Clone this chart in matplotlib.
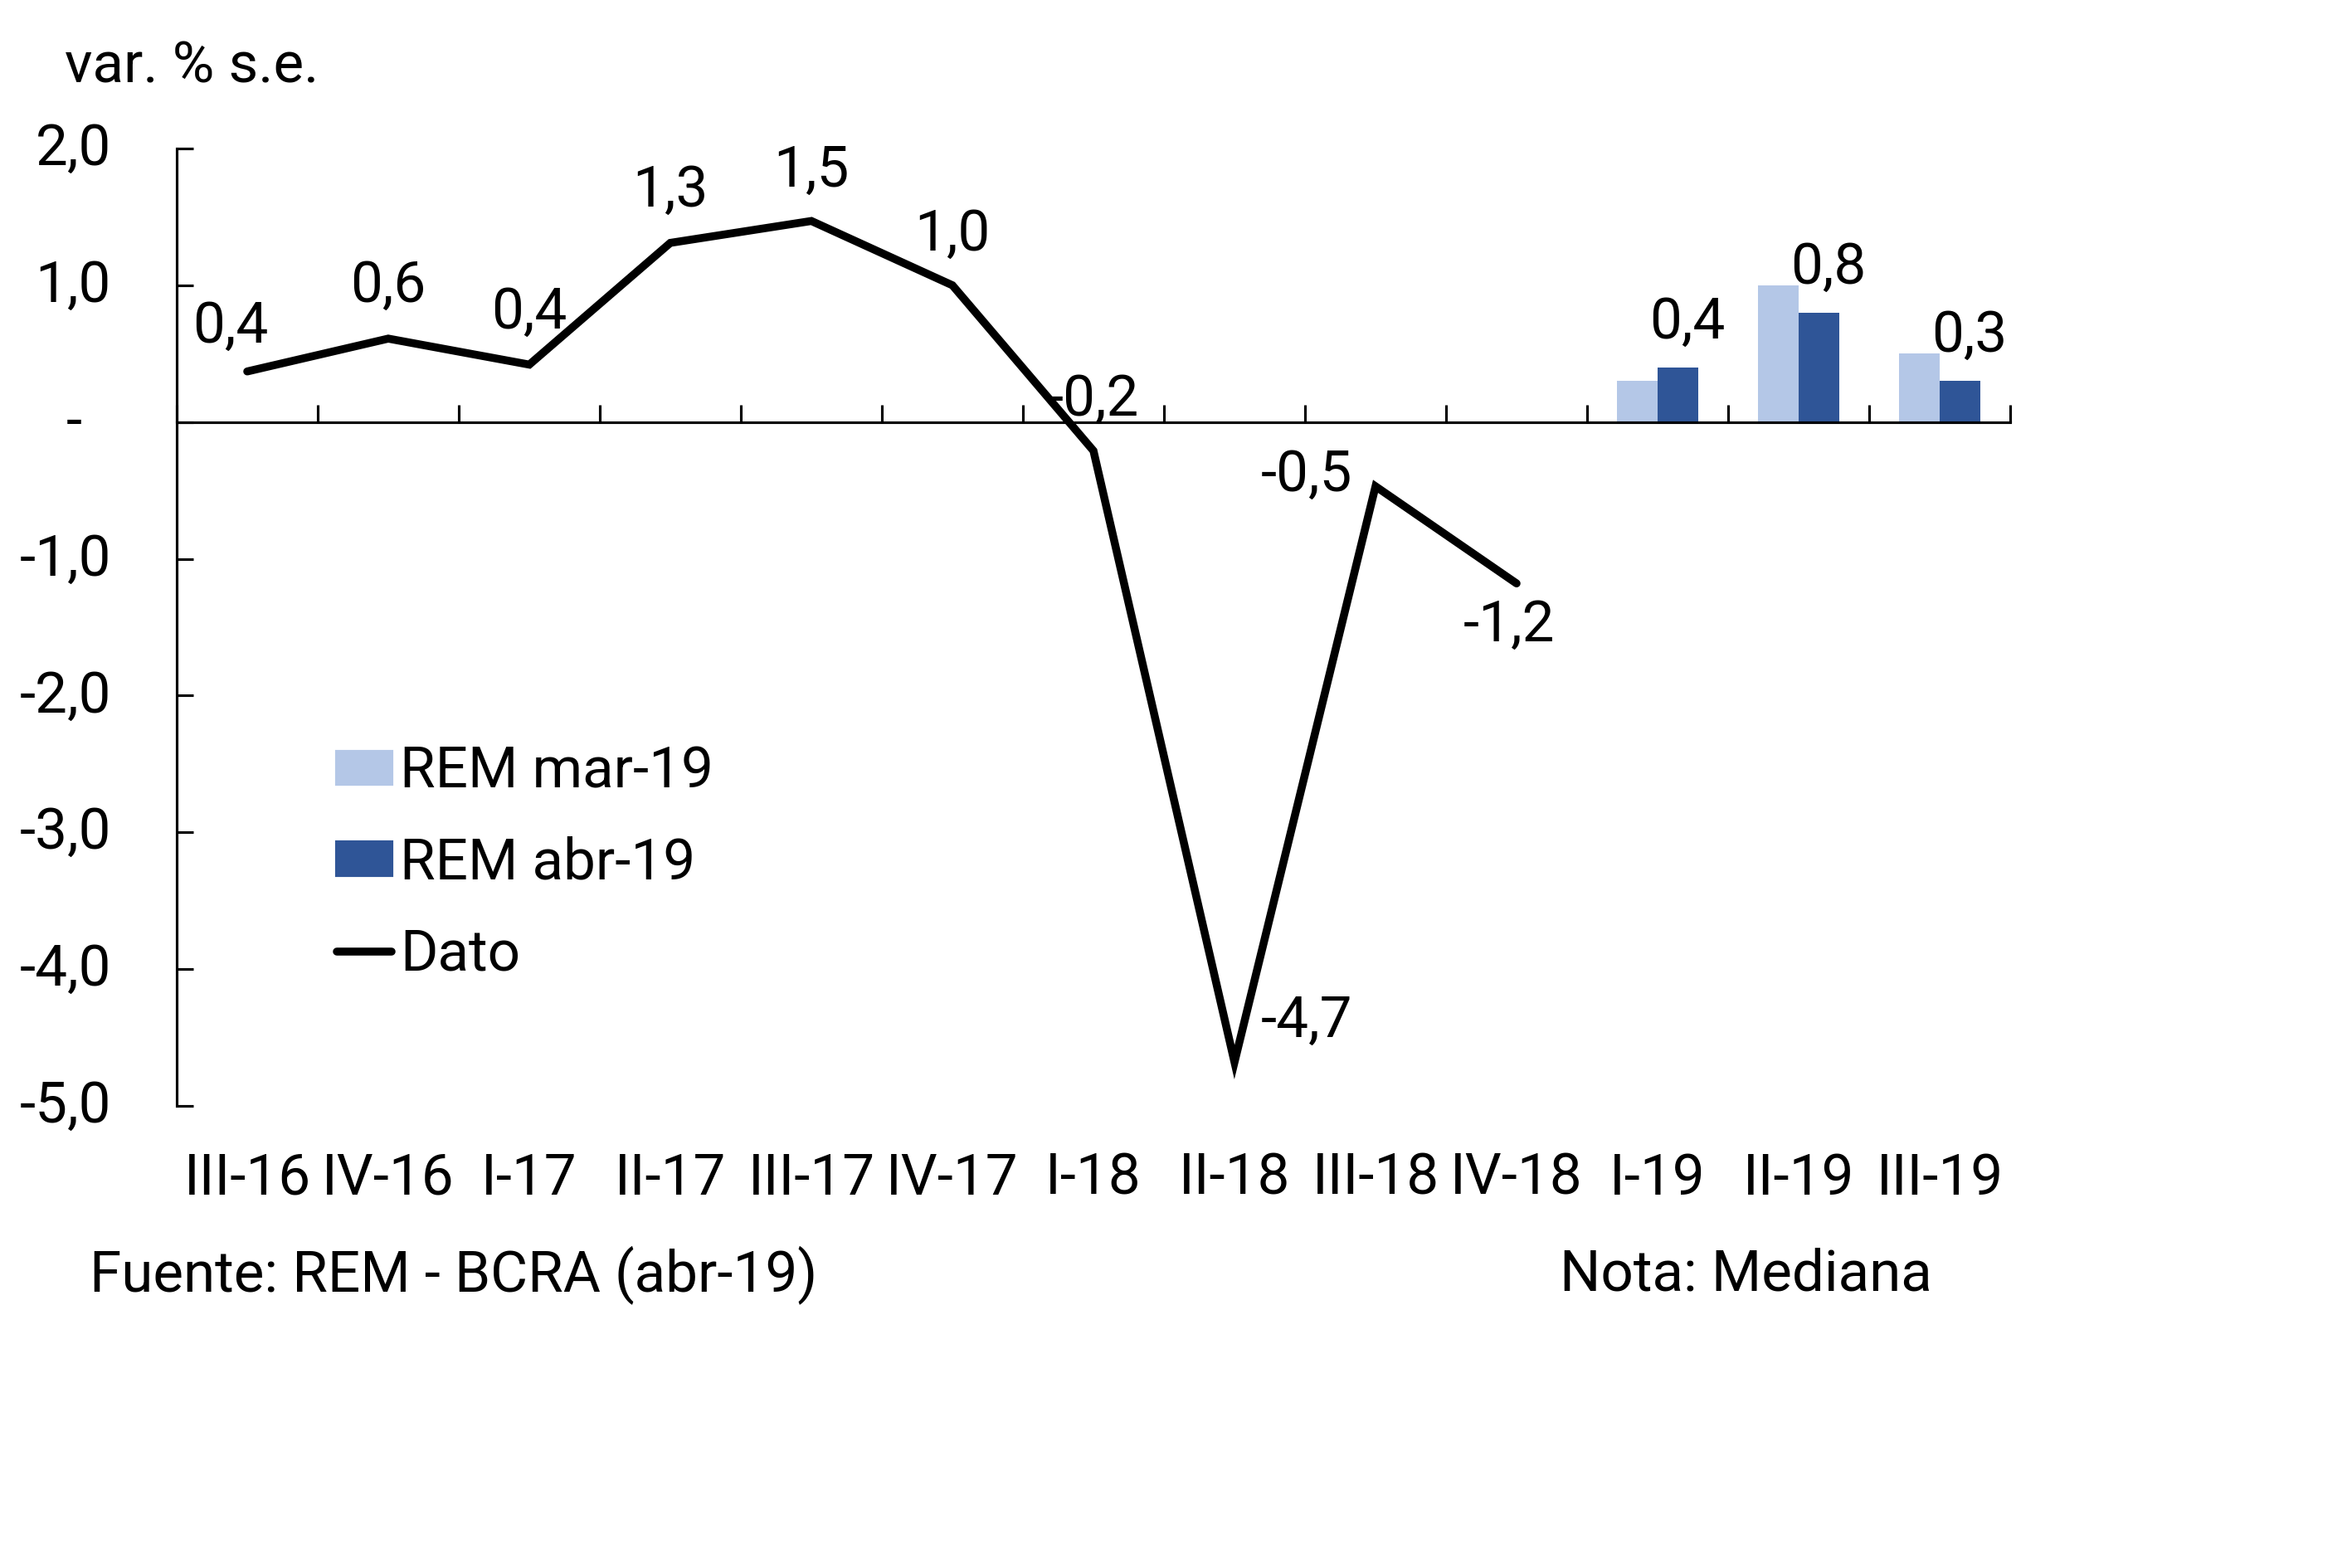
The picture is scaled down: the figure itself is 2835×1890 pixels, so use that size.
import matplotlib
matplotlib.use("Agg")
import matplotlib.pyplot as plt
from matplotlib.ticker import FixedLocator, FuncFormatter
from matplotlib.patches import Patch
from matplotlib.lines import Line2D
from matplotlib.transforms import ScaledTranslation
import numpy as np

plt.rcParams['font.family'] = ['Roboto', 'DejaVu Sans']

categories = ["III-16", "IV-16", "I-17", "II-17", "III-17", "IV-17", "I-18",
              "II-18", "III-18", "IV-18", "I-19", "II-19", "III-19"]
dato = [0.37, 0.61, 0.42, 1.31, 1.47, 1.00, -0.21, -4.68, -0.47, -1.18]
rem_mar = [0.3, 1.0, 0.5]
rem_abr = [0.4, 0.8, 0.3]
bar_cats = ["I-19", "II-19", "III-19"]

# label offsets in pixels (dx, dy) for Dato labels
dato_offsets = [(-20, 54), (0, 63), (0, 63), (0, 63), (0, 61), (0, 61), (0, 61),
                (87, 49), (-83, 13), (-9, -51)]

c_light = "#B4C7E7"
c_dark = "#2F5597"

W, H = 2835, 1890
fig = plt.figure(figsize=(W / 300, H / 300), dpi=300)
ax = fig.add_axes([213 / W, 1 - 1333 / H, (2423 - 213) / W, (1333 - 179) / H])

x = np.arange(len(categories))
xb = np.array([categories.index(c) for c in bar_cats])
bw = 0.29
ax.bar(xb - bw / 2, rem_mar, width=bw, color=c_light, zorder=2, label="REM mar-19")
ax.bar(xb + bw / 2, rem_abr, width=bw, color=c_dark, zorder=2, label="REM abr-19")
ax.plot(x[:len(dato)], dato, color="black", lw=2.3, zorder=3,
        solid_capstyle="round", solid_joinstyle="miter", label="Dato")

fs = 16.6
for xi, v, (dx, dy) in zip(x, dato, dato_offsets):
    ax.annotate(f"{v:.1f}".replace(".", ","), (xi, v), xytext=(dx, dy),
                textcoords="offset pixels", ha="center", va="center", fontsize=fs, zorder=5)
for xi, v in zip(xb, rem_abr):
    ax.annotate(f"{v:.1f}".replace(".", ","), (xi + bw / 2, v), xytext=(11, 54),
                textcoords="offset pixels", ha="center", va="center", fontsize=fs, zorder=5)

ax.set_xlim(-0.5, len(categories) - 0.5)
ax.set_ylim(-5, 2)

for s in ["top", "right"]:
    ax.spines[s].set_visible(False)
ax.spines["bottom"].set_position(("data", 0))
ax.spines["bottom"].set_linewidth(0.75)
ax.spines["left"].set_linewidth(0.75)

ax.yaxis.set_major_locator(FixedLocator(np.arange(-5, 3, 1)))
def yfmt(v, pos):
    if abs(v) < 1e-9:
        return "-  "
    return f"{v:.1f}".replace(".", ",")
ax.yaxis.set_major_formatter(FuncFormatter(yfmt))
ax.tick_params(axis="y", direction="in", length=4.8, width=0.75, pad=19, labelsize=fs)
shift = ScaledTranslation(0, 6 / 300, fig.dpi_scale_trans)
for lab in ax.get_yticklabels():
    lab.set_transform(lab.get_transform() + shift)

ax.set_xticks(x)
ax.set_xticklabels(categories)
ax.set_xticks(np.arange(-0.5, len(categories), 1), minor=True)
ax.tick_params(axis="x", which="major", length=0, pad=211, labelsize=fs)
ax.tick_params(axis="x", which="minor", direction="in", length=5, width=0.75)

fig.text(78 / W, 1 - 81 / H, "var. % s.e.", fontsize=fs, ha="left", va="center")
fig.text(108 / W, 1 - 1537 / H, "Fuente: REM - BCRA (abr-19)", fontsize=fs, ha="left", va="center")
fig.text(1880 / W, 1 - 1537 / H, "Nota: Mediana", fontsize=fs, ha="left", va="center")

handles = [Patch(color=c_light), Patch(color=c_dark),
           Line2D([], [], color="black", lw=2.3, solid_capstyle="round")]
labels = ["REM mar-19", "REM abr-19", "Dato"]
fig.legend(handles, labels, loc="upper left", bbox_to_anchor=(406 / W, 1 - 898 / H),
           frameon=False, fontsize=fs, borderpad=0, borderaxespad=0,
           handlelength=0.95, handleheight=0.5, handletextpad=0.15, labelspacing=0.63)

fig.savefig("out.png", dpi=300, facecolor="white")
